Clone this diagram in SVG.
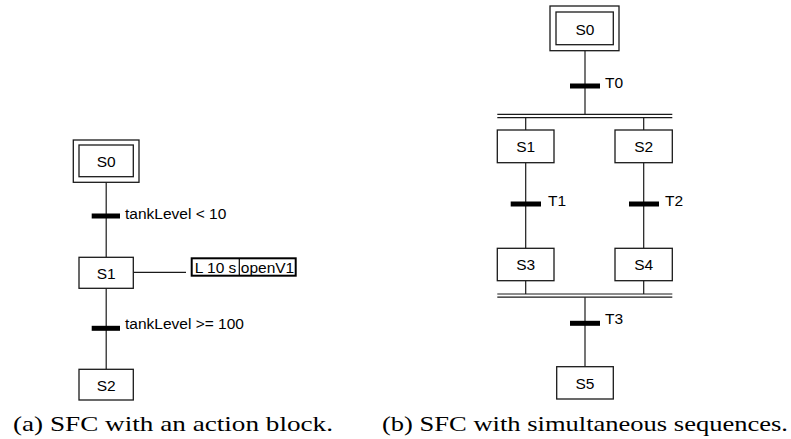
<svg xmlns="http://www.w3.org/2000/svg" width="791" height="439" viewBox="0 0 791 439">
<style>
  .box { fill: #fff; stroke: #1a1a1a; stroke-width: 1.3; }
  .ln { stroke: #1a1a1a; stroke-width: 1.2; fill: none; }
  .bar { fill: #000; }
  .lbl { font-family: "Liberation Sans", Arial, sans-serif; font-size: 15.5px; fill: #000; }
  .mid { text-anchor: middle; dominant-baseline: central; }
  .cap { font-family: "Liberation Serif", "Times New Roman", serif; font-size: 22px; fill: #000; }
  .act { fill: #fff; stroke: #000; stroke-width: 2; }
</style>

<!-- (a) chart with an action block -->
<g id="a-connectors">
  <line class="ln" x1="106.2" y1="182" x2="106.2" y2="257"/>
  <line class="ln" x1="106.2" y1="288" x2="106.2" y2="369"/>
  <line class="ln" x1="133.3" y1="272.3" x2="186" y2="272.3"/>
</g>
<g id="a-S0">
  <rect class="box" x="73.3" y="140" width="65.7" height="42.3"/>
  <rect class="box" x="79" y="145" width="54.3" height="31.7"/>
  <text class="lbl mid" x="106.2" y="161.5">S0</text>
</g>
<g id="a-t1">
  <rect class="bar" x="91.7" y="213.5" width="28.3" height="5"/>
  <text class="lbl" x="125" y="218.5">tankLevel &lt; 10</text>
</g>
<g id="a-S1">
  <rect class="box" x="79" y="257.3" width="54.3" height="31"/>
  <text class="lbl mid" x="106.2" y="273">S1</text>
</g>
<g id="a-action">
  <rect class="act" x="191.7" y="258.3" width="104" height="17.4"/>
  <line x1="239.3" y1="258.3" x2="239.3" y2="275.7" stroke="#000" stroke-width="1.2"/>
  <text class="lbl mid" x="215.5" y="267.3">L 10 s</text>
  <text class="lbl mid" x="267.5" y="267.3">openV1</text>
</g>
<g id="a-t2">
  <rect class="bar" x="91.7" y="325.8" width="28.3" height="5"/>
  <text class="lbl" x="125" y="329">tankLevel &gt;= 100</text>
</g>
<g id="a-S2">
  <rect class="box" x="79" y="369.3" width="54.3" height="30.7"/>
  <text class="lbl mid" x="106.2" y="385.5">S2</text>
</g>

<!-- (b) chart with simultaneous sequences -->
<g id="b-connectors">
  <line class="ln" x1="585" y1="50.7" x2="585" y2="114.3"/>
  <line class="ln" x1="497.3" y1="114.3" x2="672.3" y2="114.3"/>
  <line class="ln" x1="497.3" y1="117.6" x2="672.3" y2="117.6"/>
  <line class="ln" x1="525.7" y1="117.6" x2="525.7" y2="130"/>
  <line class="ln" x1="643.7" y1="117.6" x2="643.7" y2="130"/>
  <line class="ln" x1="525.7" y1="162.7" x2="525.7" y2="248.3"/>
  <line class="ln" x1="643.7" y1="162.7" x2="643.7" y2="248.3"/>
  <line class="ln" x1="525.7" y1="280.7" x2="525.7" y2="294"/>
  <line class="ln" x1="643.7" y1="280.7" x2="643.7" y2="294"/>
  <line class="ln" x1="497.3" y1="294" x2="672.3" y2="294"/>
  <line class="ln" x1="497.3" y1="297.2" x2="672.3" y2="297.2"/>
  <line class="ln" x1="585" y1="297.2" x2="585" y2="366.7"/>
</g>
<g id="b-S0">
  <rect class="box" x="550" y="6" width="69" height="44.7"/>
  <rect class="box" x="556" y="12" width="57.3" height="32.7"/>
  <text class="lbl mid" x="585" y="29.5">S0</text>
</g>
<g id="b-T0">
  <rect class="bar" x="570" y="83.5" width="30" height="5"/>
  <text class="lbl" x="605" y="87.5">T0</text>
</g>
<g id="b-S1">
  <rect class="box" x="497.3" y="130" width="56.7" height="32.7"/>
  <text class="lbl mid" x="525.7" y="146.5">S1</text>
</g>
<g id="b-S2">
  <rect class="box" x="615" y="130" width="57.3" height="32.7"/>
  <text class="lbl mid" x="643.7" y="146.5">S2</text>
</g>
<g id="b-T1">
  <rect class="bar" x="510.7" y="201.5" width="30.3" height="5"/>
  <text class="lbl" x="548" y="205.5">T1</text>
</g>
<g id="b-T2">
  <rect class="bar" x="629" y="201.5" width="30" height="5"/>
  <text class="lbl" x="665" y="205.5">T2</text>
</g>
<g id="b-S3">
  <rect class="box" x="497.3" y="248.3" width="56.7" height="32.4"/>
  <text class="lbl mid" x="525.7" y="264.7">S3</text>
</g>
<g id="b-S4">
  <rect class="box" x="615" y="248.3" width="57.3" height="32.4"/>
  <text class="lbl mid" x="643.7" y="264.7">S4</text>
</g>
<g id="b-T3">
  <rect class="bar" x="570" y="320.8" width="30" height="5"/>
  <text class="lbl" x="605" y="323.5">T3</text>
</g>
<g id="b-S5">
  <rect class="box" x="556.7" y="366.7" width="56.6" height="32.3"/>
  <text class="lbl mid" x="585" y="383.5">S5</text>
</g>

<!-- captions -->
<text class="cap" x="13" y="431" textLength="320" lengthAdjust="spacingAndGlyphs">(a) SFC with an action block.</text>
<text class="cap" x="382" y="431" textLength="406" lengthAdjust="spacingAndGlyphs">(b) SFC with simultaneous sequences.</text>
</svg>
